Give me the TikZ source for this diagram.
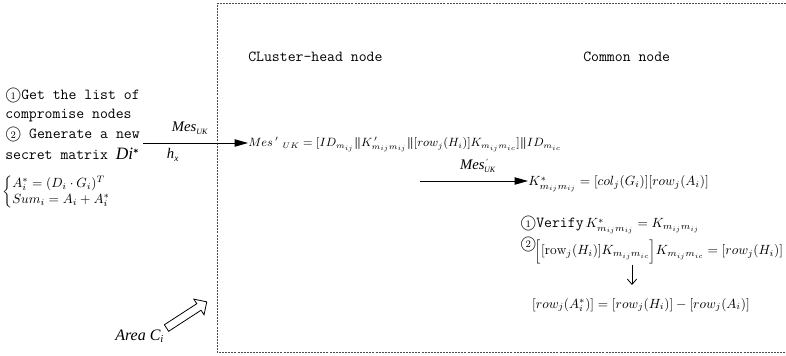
\documentclass[tikz,border=0pt]{standalone}
\usepackage{amsmath}
\usepackage{fontspec}
\usetikzlibrary{arrows.meta,shapes.arrows}
\newfontfamily\timesf{Liberation Serif}
\newcommand{\cnum}[1]{{\ooalign{$\bigcirc$\crcr\hfil\raisebox{0.15ex}{\fontsize{7.5}{8}\selectfont\rmfamily #1}\hfil}}}
\newcommand{\monotxt}{\ttfamily\fontsize{11.5}{13}\selectfont}
\begin{document}
\begin{tikzpicture}[x=0.75pt,y=-0.75pt,
  mono/.style={inner sep=0pt,anchor=base west,font=\monotxt},
  mth/.style={inner sep=0pt,anchor=base west,font=\normalsize},
  lbl/.style={inner sep=0pt,anchor=base,font=\timesf\fontsize{11}{12}\selectfont\itshape},
  msg/.style={-{Triangle[length=10pt,width=5.5pt]},line width=0.7pt},
  frame/.style={gray!60!black,line width=0.6pt,dash pattern=on 1.5pt off 0.8pt}]
\useasboundingbox (0,0) rectangle (786,356);
\draw[frame] (792,3) -- (217,3) -- (217,352) -- (792,352);

% headings
\node[mono] (ch) at (248,62) {CLuster-head node};
\node[mono] (cn) at (583,62) {Common node};

% left text
\node[mono] (l1) at (5,100) {\cnum{1}Get the list of};
\node[mono] (l2) at (5,119) {compromise nodes};
\node[mono] (l3) at (5,139) {\cnum{2} Generate a new};
\node[mono] (l4) at (5,160) {secret matrix {\timesf\itshape\fontsize{13}{14}\selectfont Di}\textsuperscript{*}};
\node[inner sep=0pt,anchor=west,font=\normalsize] (br) at (2,192)
  {$\left\{\begin{array}{@{}l@{}}A_i^{*}=(D_i\cdot G_i)^{T}\\[0pt] Sum_i=A_i+A_i^{*}\end{array}\right.$};

% message 1
\coordinate (a1) at (143,143);
\node[mth,font=\fontsize{9}{11}\selectfont] (mes) at (248,147)
  {$Mes\,'\ _{UK}=[ID_{m_{ij}}\boldsymbol{\|}K_{m_{ij}m_{ij}}^{\,\prime}\boldsymbol{\|}[row_j(H_i)]K_{m_{ij}m_{ic}}]\boldsymbol{\|}ID_{m_{ic}}$};
\draw[msg] (a1) -- (mes.west |- a1);
\node[lbl] (m1) at (190,132) {Mes\textsubscript{\fontsize{6}{7}\selectfont UK}};
\node[lbl] (h1) at (173,159) {h\textsubscript{\fontsize{7}{8}\selectfont x}};

% message 2
\coordinate (a2) at (420,181);
\node[mth] (ks) at (528,186) {$K_{m_{ij}m_{ij}}^{*}=[col_j(G_i)][row_j(A_i)]$};
\draw[msg] (a2) -- (ks.west |- a2);
\node[lbl] (m2) at (478,170) {Mes\textsuperscript{\fontsize{6}{7}\selectfont\,'}\kern-3pt\textsubscript{\fontsize{6}{7}\selectfont UK}};

% verification
\node[mth] (v1) at (520,228) {{\monotxt\cnum{1}Verify}\,$K_{m_{ij}m_{ij}}^{*}=K_{m_{ij}m_{ij}}$};
\node[mth] (v2) at (520,255) {\raisebox{5pt}{\monotxt\cnum{2}}\kern-1pt$\Bigl[[\mathrm{row}_j(H_i)]K_{m_{ij}m_{ic}}\Bigr]K_{m_{ij}m_{ic}}=[row_j(H_i)]$};
\node[mth,anchor=base] (res) at (641,308) {$[row_j(A_i^{*})]=[row_j(H_i)]-[row_j(A_i)]$};
\draw[-{Straight Barb[length=4pt,width=7pt]},line width=0.6pt] (632,265) -- (632,285);

% area
\node[lbl,anchor=base west,font=\timesf\fontsize{12}{13}\selectfont\itshape] (area) at (115,340) {Area C\textsubscript{\fontsize{8}{9}\selectfont i}};
\node[single arrow,draw,line width=0.6pt,minimum height=36pt,minimum width=14pt,
  single arrow head extend=2.5pt,single arrow head indent=0pt,inner sep=1.5pt,
  rotate=33] (ba) at (185,316) {};
\end{tikzpicture}
\end{document}
